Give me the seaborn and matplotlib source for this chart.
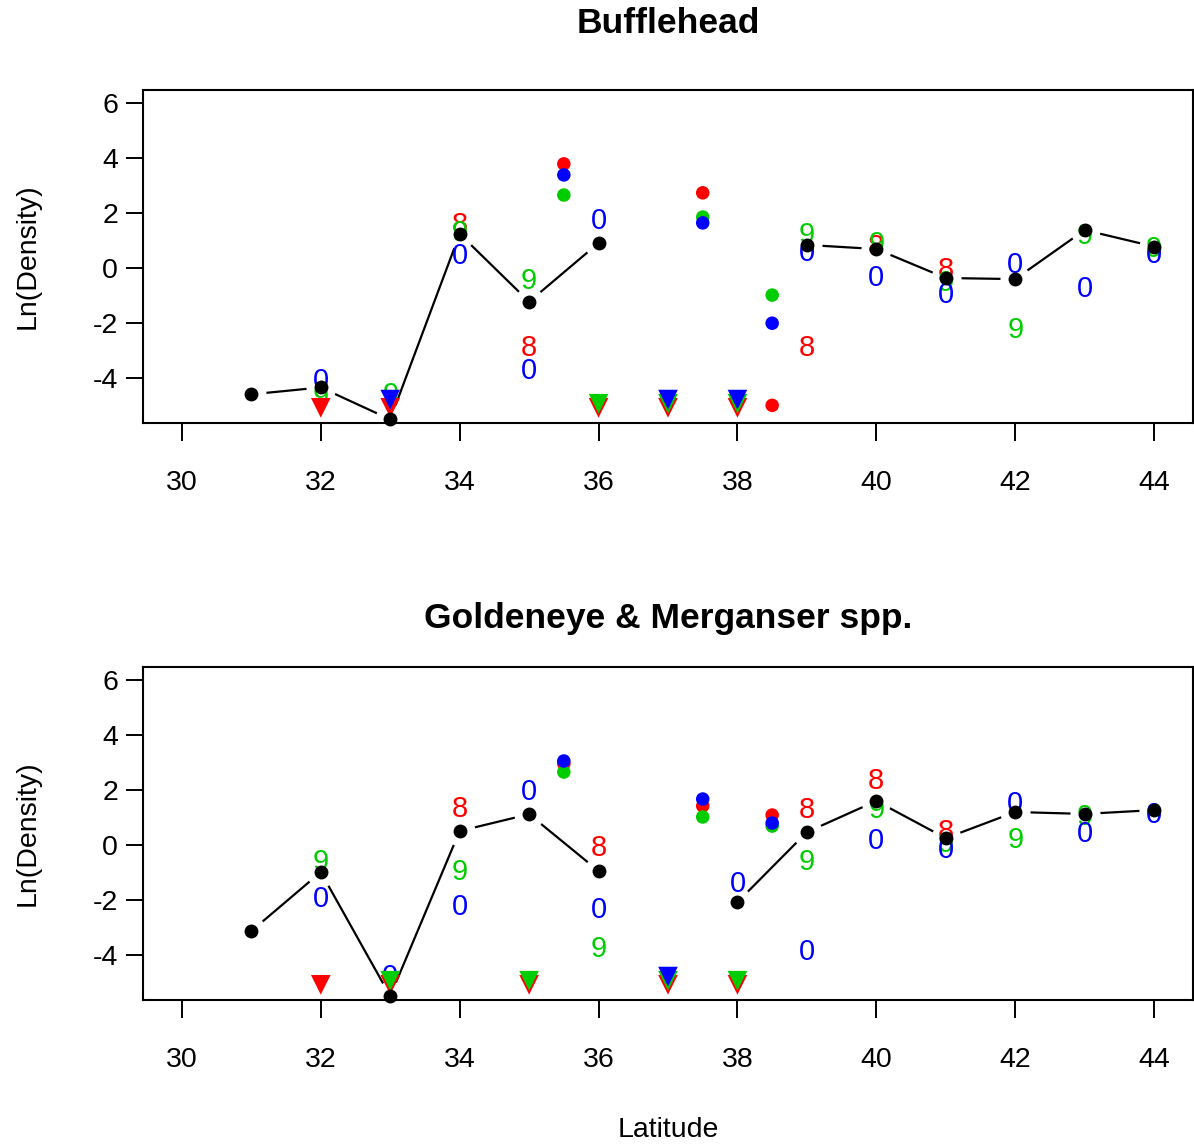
import numpy as np
import pandas as pd
import matplotlib
matplotlib.use("Agg")
import matplotlib.pyplot as plt
import seaborn as sns

sns.set_style("white")
plt.rcParams['font.family'] = ['Liberation Sans', 'DejaVu Sans']
plt.rcParams['text.color'] = 'black'
plt.rcParams['axes.labelcolor'] = 'black'
plt.rcParams['xtick.color'] = 'black'
plt.rcParams['ytick.color'] = 'black'

# ---------------- data ----------------
latitudes = [31, 32, 33, 34, 35, 36, 37, 38, 39, 40, 41, 42, 43, 44]
nan = np.nan

titles = ["Bufflehead", "Goldeneye & Merganser spp."]
years = ["1998", "1999", "2000"]
year_digits = {"1998": "8", "1999": "9", "2000": "0"}
year_colors = {"1998": "#FF0000", "1999": "#00CD00", "2000": "#0000FF"}
zero_level = {"1998": -5.07, "1999": -4.92, "2000": -4.77}   # plotted level of zero counts

# Bufflehead
bh_mean = [-4.58, -4.33, -5.49, 1.24, -1.22, 0.91, nan, nan, 0.84, 0.69, -0.36, -0.40, 1.38, 0.78]
bh_digits = {
    "1998": {34: 1.67, 35: -2.80, 39: -2.80, 40: 0.88, 41: 0.05},
    "1999": {32: -4.55, 33: -4.50, 34: 1.38, 35: -0.36, 39: 1.31, 40: 1.00,
             41: -0.44, 42: -2.14, 43: 1.27, 44: 0.80},
    "2000": {32: -4.00, 34: 0.55, 35: -3.64, 36: 1.82, 39: 0.65, 40: -0.25,
             41: -0.87, 42: 0.22, 43: -0.65, 44: 0.58},
}
bh_circles = {
    "1998": {35.5: 3.78, 37.5: 2.73, 38.5: -4.98},
    "1999": {35.5: 2.65, 37.5: 1.85, 38.5: -0.98},
    "2000": {35.5: 3.38, 37.5: 1.64, 38.5: -2.00},
}
bh_zeros = {"1998": [32, 33, 36, 37, 38], "1999": [36, 37, 38], "2000": [33, 37, 38]}

# Goldeneye & Merganser
gm_mean = [-3.12, -0.98, -5.48, 0.51, 1.12, -0.94, nan, -2.07, 0.47, 1.60, 0.25, 1.20, 1.13, 1.27]
gm_digits = {
    "1998": {34: 1.42, 36: 0.00, 39: 1.38, 40: 2.43, 41: 0.58},
    "1999": {32: -0.51, 34: -0.87, 36: -3.67, 39: -0.51, 40: 1.38, 41: 0.15,
             42: 0.29, 43: 1.13},
    "2000": {32: -1.85, 33: -4.68, 34: -2.14, 35: 2.03, 36: -2.25, 38: -1.31,
             39: -3.78, 40: 0.25, 41: -0.07, 42: 1.60, 43: 0.51, 44: 1.20},
}
gm_circles = {
    "1998": {35.5: 2.95, 37.5: 1.42, 38.5: 1.09},
    "1999": {35.5: 2.65, 37.5: 1.02, 38.5: 0.69},
    "2000": {35.5: 3.05, 37.5: 1.67, 38.5: 0.80},
}
gm_zeros = {"1998": [32, 33, 35, 37, 38], "1999": [33, 35, 37, 38], "2000": [37]}

x_ticks = [30, 32, 34, 36, 38, 40, 42, 44]
y_ticks = [-4, -2, 0, 2, 4, 6]

panels = [
    (bh_mean, bh_digits, bh_circles, bh_zeros),
    (gm_mean, gm_digits, gm_circles, gm_zeros),
]

# ---------------- figure ----------------
W, H = 1194, 1144
fig = plt.figure(figsize=(W / 100, H / 100), dpi=100)
ax_top = fig.add_axes([143 / W, 1 - 423 / H, 1050 / W, 333 / H])
ax_bot = fig.add_axes([143 / W, 1 - 1000 / H, 1050 / W, 333 / H])
axes = [ax_top, ax_bot]
title_baselines = [33, 628]

for ax, (mean, digits, circles, zeros), title, tb in zip(axes, panels, titles, title_baselines):
    # mean line (broken at missing values)
    mdf = pd.DataFrame({"lat": latitudes, "val": mean})
    mdf["seg"] = mdf["val"].isna().cumsum()
    mdf = mdf.dropna()
    sns.lineplot(data=mdf, x="lat", y="val", units="seg", estimator=None, sort=False,
                 color="black", linewidth=1.6, ax=ax, zorder=2, legend=False)
    # white halos make gaps around points (R type="b")
    sns.scatterplot(data=mdf, x="lat", y="val", color="white", s=470, linewidth=0,
                    ax=ax, zorder=2.1, legend=False)

    # year digits
    for yr in years:
        for lat, v in digits[yr].items():
            ax.text(lat, v, year_digits[yr], color=year_colors[yr], fontsize=21,
                    ha="center", va="center_baseline", zorder=3)

    # half-degree circles
    cdf = pd.DataFrame([(lat, v, yr) for yr in years for lat, v in circles[yr].items()],
                       columns=["lat", "val", "year"])
    sns.scatterplot(data=cdf, x="lat", y="val", hue="year", palette=year_colors, s=95,
                    linewidth=0, ax=ax, zorder=3, legend=False)

    # zero counts (triangles)
    zdf = pd.DataFrame([(lat, zero_level[yr], yr) for yr in years for lat in zeros[yr]],
                       columns=["lat", "val", "year"])
    sns.scatterplot(data=zdf, x="lat", y="val", hue="year", palette=year_colors, s=200,
                    marker="v", linewidth=0, ax=ax, zorder=3, legend=False)

    # mean points on top
    sns.scatterplot(data=mdf, x="lat", y="val", color="black", s=100, linewidth=0,
                    ax=ax, zorder=4, legend=False, clip_on=False)

    ax.set_xlim(29.44, 44.56)
    ax.set_ylim(-5.62, 6.46)
    ax.set_xticks(x_ticks)
    ax.set_xticklabels([str(t) for t in x_ticks])
    ax.set_yticks(y_ticks)
    ax.set_yticklabels([str(t) for t in y_ticks])
    ax.tick_params(axis="x", direction="out", length=13, width=1.4, pad=21,
                   labelsize=20.5, colors="black", bottom=True)
    ax.tick_params(axis="y", direction="out", length=12.5, width=1.4, pad=5.5,
                   labelsize=20.5, colors="black", left=True)
    for sp in ax.spines.values():
        sp.set_visible(True)
        sp.set_color("black")
        sp.set_linewidth(1.5)
    ax.set_xlabel("")
    ax.set_ylabel("")

    fig.text(668 / W, 1 - tb / H, title, ha="center", va="baseline",
             fontsize=25.5, fontweight="bold", color="black")
    bb = ax.get_position()
    fig.text(28 / W, (bb.y0 + bb.y1) / 2, "Ln(Density)", rotation=90,
             ha="center", va="center", fontsize=20.5, color="black")

fig.text(668 / W, 1 - 1137 / H, "Latitude", ha="center", va="baseline",
         fontsize=20.5, color="black")

fig.savefig("out.png", dpi=100)
